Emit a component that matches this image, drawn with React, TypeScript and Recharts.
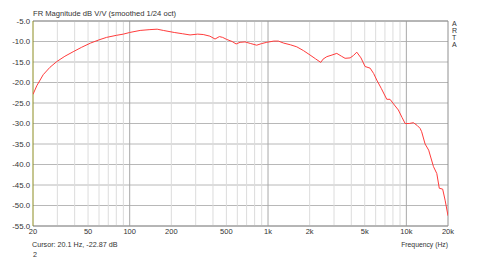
import { LineChart, Line, XAxis, YAxis, CartesianGrid, ReferenceLine } from 'recharts';

// frequency response
const freqs = [
  20, 21.3, 23.7, 26.5, 29.7, 34, 39, 45, 52, 60, 68, 80, 90, 100, 119, 140, 158, 175, 210, 240,
  273, 310, 340, 380, 414, 445, 470, 503, 550, 588, 628, 682, 750, 828, 900, 980, 1100, 1188, 1300, 1450,
  1614, 1800, 2013, 2200, 2406, 2500, 2660, 2900, 3140, 3400, 3605, 3920, 4150, 4380, 4700, 5030, 5470, 5800, 6110, 6600,
  7220, 7620, 8200, 8750, 9300, 9800, 10500, 11240, 12000, 12570, 12900, 13660, 14500, 15700, 16600, 17300, 18300, 19060, 20000,
];
const magnitude = [
  -22.9, -20.8, -18.1, -16.3, -14.9, -13.6, -12.5, -11.4, -10.4, -9.6, -9.0, -8.5, -8.2, -7.8, -7.3, -7.1, -7.0, -7.3, -7.8, -8.1,
  -8.4, -8.2, -8.3, -8.7, -9.4, -8.8, -9.0, -9.5, -10.0, -10.6, -10.2, -10.1, -10.5, -10.9, -10.5, -10.2, -9.9, -9.9, -10.4, -10.8,
  -11.3, -12.2, -13.3, -14.2, -15.1, -14.3, -13.7, -13.3, -12.9, -13.6, -14.1, -14.0, -13.4, -12.6, -14.0, -16.1, -16.5, -17.8, -19.4, -21.5,
  -24.1, -24.1, -25.5, -26.7, -28.5, -30.0, -30.0, -29.8, -30.5, -31.2, -32.0, -35.0, -36.5, -40.5, -42.2, -45.8, -46.0, -48.7, -52.5,
];

const xTicks = [20, 50, 100, 200, 500, 1000, 2000, 5000, 10000, 20000];
const yTicks = [-55, -50, -45, -40, -35, -30, -25, -20, -15, -10, -5];
const minorGrid = [
  30, 40, 50, 60, 70, 80, 90, 200, 300, 400, 500, 600, 700, 800, 900,
  2000, 3000, 4000, 5000, 6000, 7000, 8000, 9000,
];
const majorGrid = [100, 1000, 10000];

const data = freqs.map((f, i) => ({ f, db: magnitude[i] }));

const fmtFreq = (v: number) => (v >= 1000 ? `${v / 1000}k` : `${v}`);

const font = '"Liberation Sans", Arial, sans-serif';
const txt = { position: 'absolute' as const, fontFamily: font, fontSize: 7.2, color: '#333', whiteSpace: 'nowrap' as const, lineHeight: '10px' };

export default function App() {
  return (
    <div style={{ position: 'absolute', left: 0, top: 0, width: 480, height: 275, background: '#fff' }}>
      <LineChart width={480} height={275} data={data} margin={{ top: 21, right: 32, bottom: 19, left: 0 }}>
        <CartesianGrid vertical={false} stroke="#b8b8b8" />
        {minorGrid.map((g) => (
          <ReferenceLine key={g} x={g} stroke="#dcdcdc" />
        ))}
        {majorGrid.map((g) => (
          <ReferenceLine key={g} x={g} stroke="#a8a8a8" />
        ))}
        <ReferenceLine y={-5} stroke="#909090" />
        <ReferenceLine y={-55} stroke="#909090" />
        <ReferenceLine x={20000} stroke="#909090" />
        <ReferenceLine x={20} stroke="#8c8c20" />
        <XAxis
          dataKey="f"
          type="number"
          scale="log"
          domain={[20, 20000]}
          ticks={xTicks}
          tickFormatter={fmtFreq}
          height={30}
          axisLine={false}
          tickLine={false}
          tickSize={0}
          tickMargin={3}
          interval={0}
          tick={{ fontSize: 7.5, fill: '#333', fontFamily: font }}
          allowDataOverflow
        />
        <YAxis
          type="number"
          domain={[-55, -5]}
          ticks={yTicks}
          tickFormatter={(v: number) => v.toFixed(1)}
          width={33}
          axisLine={false}
          tickLine={false}
          tickSize={0}
          tickMargin={3}
          interval={0}
          tick={{ fontSize: 7.8, fill: '#333', fontFamily: font }}
        />
        <Line dataKey="db" type="linear" stroke="#ff3c3c" strokeWidth={1} dot={false} isAnimationActive={false} />
      </LineChart>
      <div style={{ ...txt, left: 33, top: 9, fontSize: 7.6 }}>FR Magnitude dB V/V (smoothed 1/24 oct)</div>
      <div style={{ ...txt, left: 32, top: 240 }}>Cursor: 20.1 Hz, -22.87 dB</div>
      <div style={{ ...txt, left: 33, top: 250 }}>2</div>
      <div style={{ ...txt, right: 32, top: 240, fontSize: 6.8 }}>Frequency (Hz)</div>
      <div style={{ ...txt, left: 452, top: 20, fontSize: 7, lineHeight: '7px', width: 6, whiteSpace: 'normal' }}>
        {['A', 'R', 'T', 'A'].map((c, i) => (
          <div key={i}>{c}</div>
        ))}
      </div>
    </div>
  );
}
